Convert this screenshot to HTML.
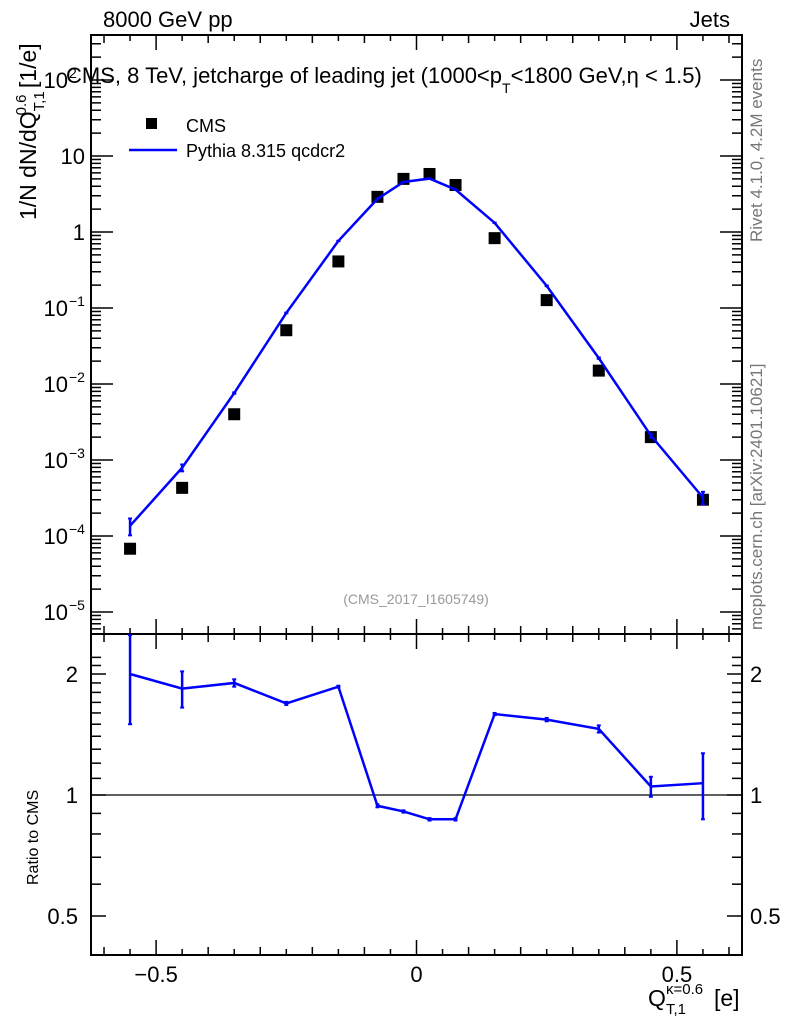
<!DOCTYPE html>
<html><head><meta charset="utf-8"><style>
body{margin:0;background:#fff;}
svg{display:block;font-family:"Liberation Sans",sans-serif;}
</style></head><body>
<svg id="c" width="786" height="1024" viewBox="0 0 786 1024"></svg>
<script>
const xCenters=[-0.55,-0.45,-0.35,-0.25,-0.15,-0.075,-0.025,0.025,0.075,0.15,0.25,0.35,0.45,0.55];
const cmsValues=[6.8e-5,4.3e-4,4.0e-3,0.051,0.41,2.9,5.0,5.8,4.15,0.83,0.127,0.015,2.0e-3,3.0e-4];
const ratioValues=[2.0,1.84,1.90,1.69,1.86,0.94,0.91,0.87,0.87,1.59,1.54,1.46,1.05,1.07];
const ratioErrors=[0.5,0.19,0.04,0.015,0.01,0.008,0.006,0.006,0.006,0.01,0.015,0.03,0.06,0.2];
const xTicks=[-0.5,0,0.5];
const xTickLabels=["\u22120.5","0","0.5"];
const ratioTicks=[0.5,1,2];

const NS="http://www.w3.org/2000/svg";
const svg=document.getElementById('c');
function el(t,a,p){const e=document.createElementNS(NS,t);for(const k in a)e.setAttribute(k,a[k]);(p||svg).appendChild(e);return e;}
const L=91,R=742,T=35,M=634,B=955;
const X=v=>L+(v+0.625)/1.25*(R-L);
const Ym=v=>232-76*Math.log10(v);
const Yr=v=>795-121*Math.log2(v);
const fg={stroke:'#000','stroke-width':2,fill:'none'};

let f=el('rect',{x:L,y:T,width:R-L,height:M-T,...fg});

f=el('rect',{x:L,y:M,width:R-L,height:B-M,...fg});


for(let k=-12;k<=12;k++){
  const vv=k*0.05;const major=(k%10===0);const mid=(k%2===0);
  const len=major?15:(mid?8:6);const x=X(vv);
  for(const [y0,d] of [[T,1],[M,-1],[M,1],[B,-1]]) el('line',{x1:x,x2:x,y1:y0,y2:y0+d*len,stroke:'#000','stroke-width':1.5});
}
xTicks.forEach((v,i)=>{const t=el('text',{x:X(v),y:982,'font-size':22,'text-anchor':'middle'});t.textContent=xTickLabels[i];
});

for(let d=-6;d<=2;d++){for(let m=1;m<10;m++){const v=m*Math.pow(10,d);const y=Ym(v);if(y<T||y>M)continue;
 const len=m==1?22:10;
 el('line',{x1:L,x2:L+len,y1:y,y2:y,stroke:'#000','stroke-width':1.5});
 el('line',{x1:R,x2:R-len,y1:y,y2:y,stroke:'#000','stroke-width':1.5});}}
const ylab=[[2,'10','2'],[1,'10',''],[0,'1',''],[-1,'10','\u22121'],[-2,'10','\u22122'],[-3,'10','\u22123'],[-4,'10','\u22124'],[-5,'10','\u22125']];
ylab.forEach(([d,b,s])=>{const y=Ym(Math.pow(10,d));const t=el('text',{x:s?68:85,y:y+8,'font-size':22,'text-anchor':'end'});t.textContent=b;
 if(s){const sp=el('text',{x:69,y:y-2,'font-size':14});sp.textContent=s;}
 });

for(let v=0.4;v<=2.3;v+=0.1){const vv=Math.round(v*10)/10;const y=Yr(vv);if(y<M||y>B)continue;
 const major=ratioTicks.includes(vv);const len=major?15:10;
 el('line',{x1:L,x2:L+len,y1:y,y2:y,stroke:'#000','stroke-width':1.5});
 el('line',{x1:R,x2:R-len,y1:y,y2:y,stroke:'#000','stroke-width':1.5});}
ratioTicks.forEach(v=>{const y=Yr(v);
 let t=el('text',{x:78,y:y+8,'font-size':22,'text-anchor':'end'});t.textContent=String(v);
 
 t=el('text',{x:750,y:y+8,'font-size':22});t.textContent=String(v);});
el('line',{x1:L,x2:R,y1:Yr(1),y2:Yr(1),stroke:'#000','stroke-width':1.2});

cmsValues.forEach((v,i)=>{const r=el('rect',{x:X(xCenters[i])-6,y:Ym(v)-6,width:12,height:12,fill:'#000'});
 });
const pyth=cmsValues.map((v,i)=>v*ratioValues[i]);
let p=el('polyline',{points:pyth.map((v,i)=>X(xCenters[i])+','+Ym(v)).join(' '),stroke:'#00f','stroke-width':2.5,fill:'none'});

pyth.forEach((v,i)=>{const e=ratioErrors[i]/ratioValues[i];const x=X(xCenters[i]);
 const y1=Ym(v*(1+e)),y2=Ym(v*Math.max(0.05,1-e));
 el('line',{x1:x,x2:x,y1:y1,y2:y2,stroke:'#00f','stroke-width':2.5});
 el('line',{x1:x-2,x2:x+2,y1:y1,y2:y1,stroke:'#00f','stroke-width':2});
 el('line',{x1:x-2,x2:x+2,y1:y2,y2:y2,stroke:'#00f','stroke-width':2});});
p=el('polyline',{points:ratioValues.map((v,i)=>X(xCenters[i])+','+Yr(v)).join(' '),stroke:'#00f','stroke-width':2.5,fill:'none'});

ratioValues.forEach((v,i)=>{const x=X(xCenters[i]);
 const y1=Math.max(M,Yr(v+ratioErrors[i])),y2=Yr(v-ratioErrors[i]);
 el('line',{x1:x,x2:x,y1:y1,y2:y2,stroke:'#00f','stroke-width':2.5});
 if(y1>M)el('line',{x1:x-2,x2:x+2,y1:y1,y2:y1,stroke:'#00f','stroke-width':2});
 el('line',{x1:x-2,x2:x+2,y1:y2,y2:y2,stroke:'#00f','stroke-width':2});});
</script>
<svg width="786" height="1024" style="position:absolute;left:0;top:0;font-family:'Liberation Sans',sans-serif">
<text x="103" y="27" font-size="22">8000 GeV pp</text>
<text x="730" y="27" font-size="22" text-anchor="end">Jets</text>
<text x="66" y="83" font-size="22">CMS, 8 TeV, jetcharge of leading jet (1000&lt;p<tspan font-size="14" dy="10">T</tspan><tspan dy="-10">&lt;1800 GeV,</tspan>η &lt; 1.5)</text>
<rect x="146" y="118" width="11" height="11" fill="#000"/>
<text x="186" y="132" font-size="18">CMS</text>
<line x1="129" x2="177" y1="150" y2="150" stroke="#00f" stroke-width="2.5"/>
<text x="186" y="157" font-size="18">Pythia 8.315 qcdcr2</text>
<text x="416" y="604" font-size="14" fill="#999" text-anchor="middle">(CMS_2017_I1605749)</text>
<text transform="translate(36,220) rotate(-90)" font-size="23">1/N dN/dQ<tspan font-size="15" dy="8">T,1</tspan><tspan font-size="15" dx="-24" dy="-18">0.6</tspan><tspan dy="10"> [1/e]</tspan></text>
<text transform="translate(38,885) rotate(-90)" font-size="16">Ratio to CMS</text>
<g>
<text x="648" y="1006" font-size="23">Q</text>
<text x="666" y="1014" font-size="15">T,1</text>
<text x="666" y="994" font-size="15">κ=0.6</text>
<text x="714" y="1006" font-size="23">[e]</text>
</g>
<text transform="translate(762,242) rotate(-90)" font-size="17" fill="#777">Rivet 4.1.0,  4.2M events</text>
<text transform="translate(762,630) rotate(-90)" font-size="17" fill="#777">mcplots.cern.ch [arXiv:2401.10621]</text>
</svg>
</body></html>
